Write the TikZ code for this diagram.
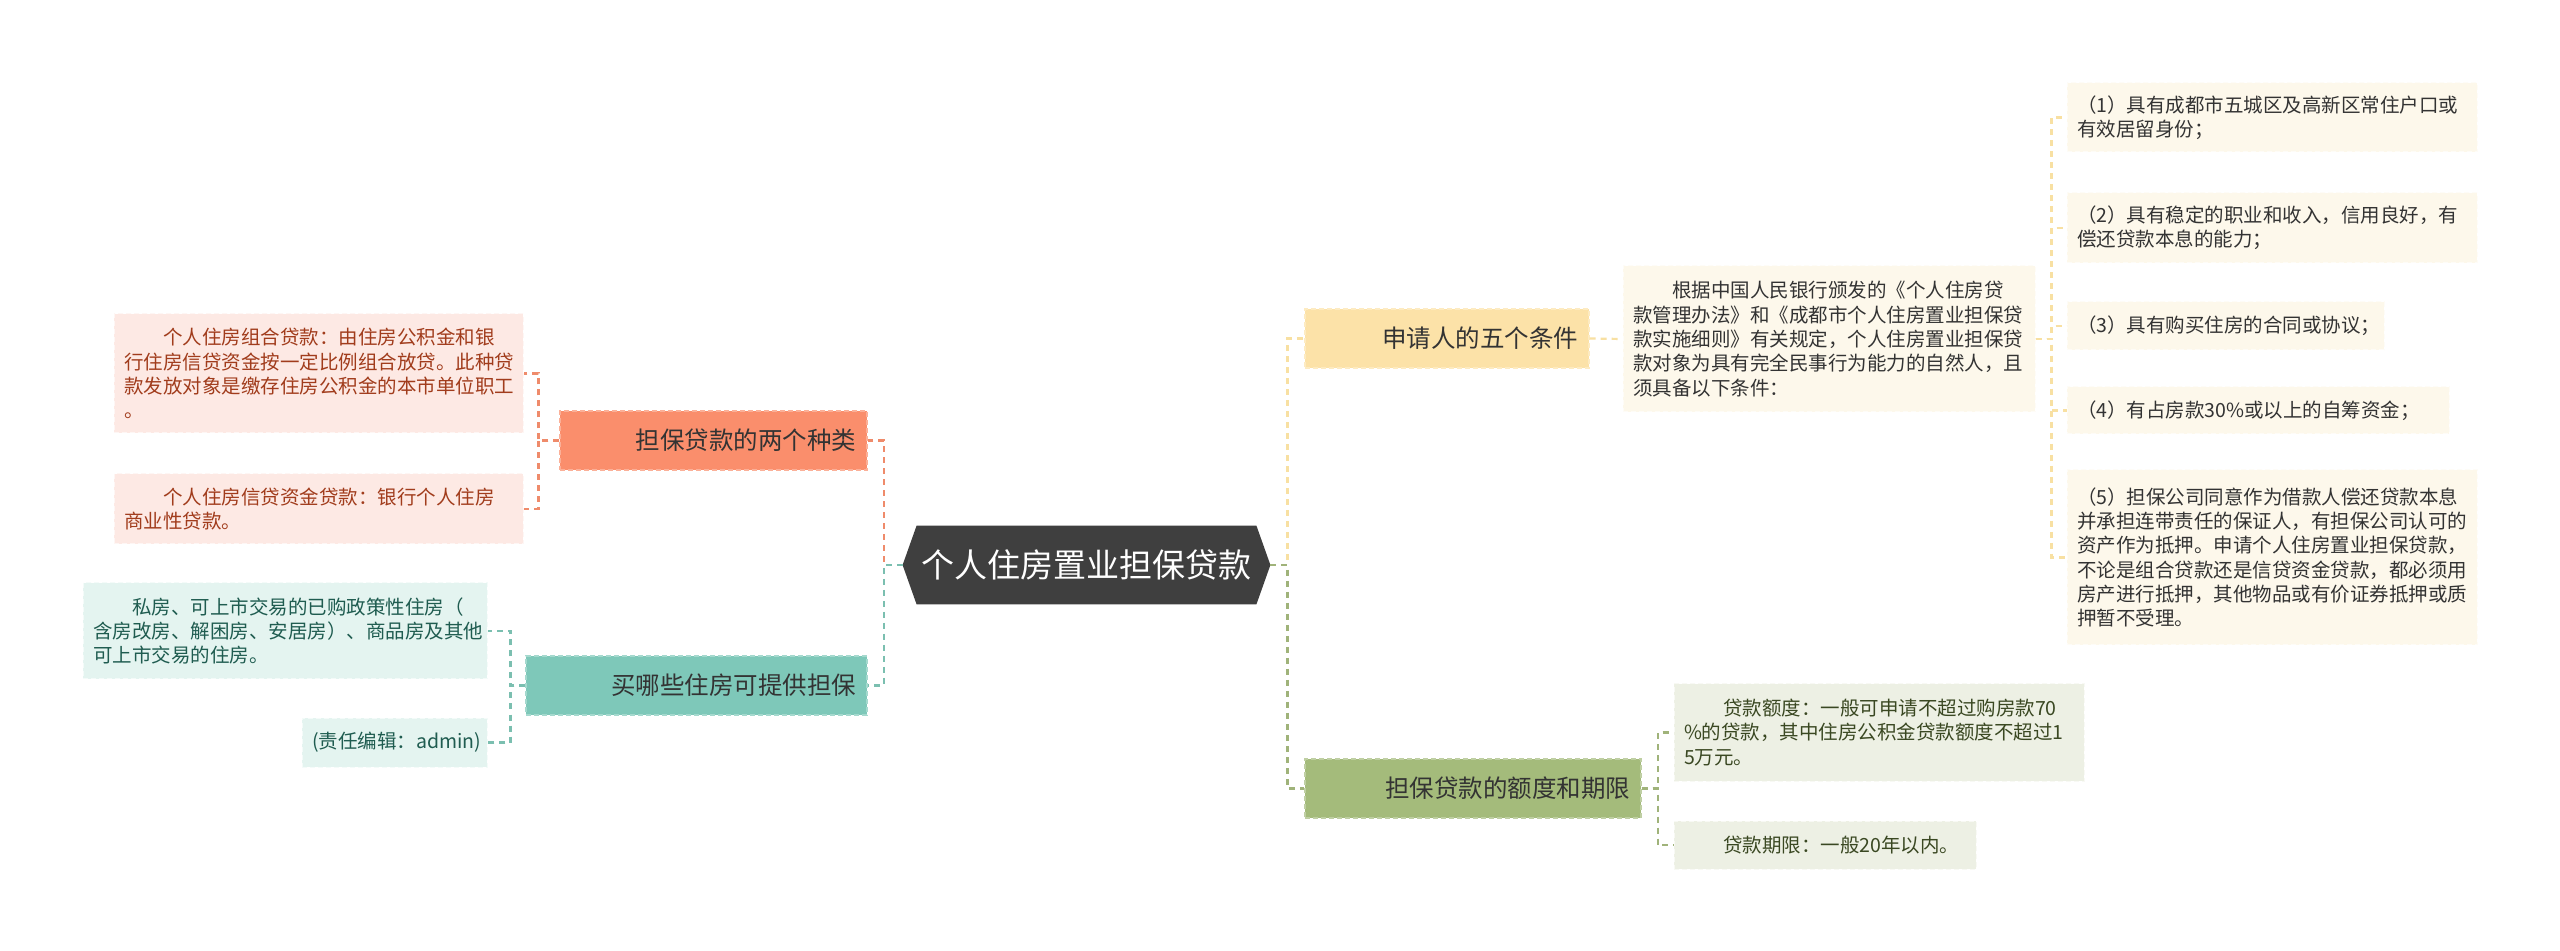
\documentclass[tikz,border=0pt]{standalone}
\usepackage{fontspec}
\setmainfont{Noto Sans CJK SC}
\usetikzlibrary{backgrounds}
\definecolor{rootFill}{HTML}{3F3F3F}
\definecolor{orFill}{HTML}{FA8E6C}
\definecolor{orLine}{HTML}{EF8B6B}
\definecolor{orLeaf}{HTML}{FDE9E4}
\definecolor{orText}{HTML}{A13C1C}
\definecolor{tlFill}{HTML}{7EC8B9}
\definecolor{tlLine}{HTML}{7BBFB0}
\definecolor{tlLeaf}{HTML}{E4F4F0}
\definecolor{tlText}{HTML}{1F5C50}
\definecolor{ywFill}{HTML}{FCE2A8}
\definecolor{ywLine}{HTML}{F8E0A2}
\definecolor{ywLeaf}{HTML}{FDF8EB}
\definecolor{gnFill}{HTML}{A4BB7B}
\definecolor{gnLine}{HTML}{A0B37A}
\definecolor{gnLeaf}{HTML}{EDF0E4}
\definecolor{gnText}{HTML}{3A4822}
\definecolor{txtDark}{HTML}{333333}

\begin{document}
\begin{tikzpicture}[x=0.5pt, y=-0.5pt,
    root/.style={minimum width=183.5pt, minimum height=39pt, inner sep=0pt,
                 text=white, font=\fontsize{16.5pt}{20pt}\selectfont},
    branch/.style={minimum height=29.5pt, inner xsep=5.5pt, inner ysep=0pt, align=right,
                   text=txtDark, font=\fontsize{12.25pt}{15pt}\selectfont,
                   fill=#1, draw=#1!70!white, dash pattern=on 2.5pt off 1.5pt, line width=0.6pt},
    leaf/.style={inner xsep=5pt, inner ysep=0pt, align=left,
                 font=\fontsize{9.75pt}{12.15pt}\selectfont,
                 fill=#1, draw=#1!40!white, dash pattern=on 2.5pt off 1.5pt, line width=0.5pt},
    link/.style={line width=1.1pt, dash pattern=on 3pt off 2.5pt},
]
\useasboundingbox (0,0) rectangle (2560,951);

% centre
\node[root] (root) at (1086.5,565) {个人住房置业担保贷款};

% branches
\node[branch=orFill, text width=142.5pt] (oB) at (713.5,440.5) {担保贷款的两个种类};
\node[branch=tlFill, text width=159.5pt] (tB) at (696.5,685.5) {买哪些住房可提供担保};
\node[branch=ywFill, text width=131pt] (yB) at (1447,338.5) {申请人的五个条件};
\node[branch=gnFill, text width=157pt] (gB) at (1473,788.5) {担保贷款的额度和期限};

% loan types
\node[leaf=orLeaf, text=orText, text width=194.5pt, minimum height=59.5pt] (o1) at (318.5,373.5)
  {\hspace*{2em}个人住房组合贷款：由住房公积金和银\\行住房信贷资金按一定比例组合放贷。此种贷\\款发放对象是缴存住房公积金的本市单位职工\\。};
\node[leaf=orLeaf, text=orText, text width=194.5pt, minimum height=35pt] (o2) at (318.5,509)
  {\hspace*{2em}个人住房信贷资金贷款：银行个人住房\\商业性贷款。};

% houses
\node[leaf=tlLeaf, text=tlText, text width=192pt, minimum height=48pt] (t1) at (285,631)
  {\hspace*{2em}私房、可上市交易的已购政策性住房（\\含房改房、解困房、安居房）、商品房及其他\\可上市交易的住房。};
\node[leaf=tlLeaf, text=tlText, text width=82.5pt, minimum height=24.5pt, align=right] (t2) at (394.5,742.5)
  {(责任编辑：admin)};

% conditions
\node[leaf=ywLeaf, text=txtDark, text width=196pt, minimum height=73pt] (yT) at (1829,339)
  {\hspace*{2em}根据中国人民银行颁发的《个人住房贷\\款管理办法》和《成都市个人住房置业担保贷\\款实施细则》有关规定，个人住房置业担保贷\\款对象为具有完全民事行为能力的自然人，且\\须具备以下条件：};
\node[leaf=ywLeaf, text=txtDark, text width=195pt, minimum height=34.5pt] (y1) at (2272,117.5)
  {（1）具有成都市五城区及高新区常住户口或\\有效居留身份；};
\node[leaf=ywLeaf, text=txtDark, text width=195pt, minimum height=35pt] (y2) at (2272,228)
  {（2）具有稳定的职业和收入，信用良好，有\\偿还贷款本息的能力；};
\node[leaf=ywLeaf, text=txtDark, text width=148.5pt, minimum height=24pt] (y3) at (2225.5,326)
  {（3）具有购买住房的合同或协议；};
\node[leaf=ywLeaf, text=txtDark, text width=181pt, minimum height=23.5pt] (y4) at (2258,410.5)
  {（4）有占房款30\%或以上的自筹资金；};
\node[leaf=ywLeaf, text=txtDark, text width=195pt, minimum height=87.5pt] (y5) at (2272,557.5)
  {（5）担保公司同意作为借款人偿还贷款本息\\并承担连带责任的保证人，有担保公司认可的\\资产作为抵押。申请个人住房置业担保贷款，\\不论是组合贷款还是信贷资金贷款，都必须用\\房产进行抵押，其他物品或有价证券抵押或质\\押暂不受理。};

% amount and term
\node[leaf=gnLeaf, text=gnText, text width=195pt, minimum height=48.5pt] (g1) at (1879,732.5)
  {\hspace*{2em}贷款额度：一般可申请不超过购房款70\\\%的贷款，其中住房公积金贷款额度不超过1\\5万元。};
\node[leaf=gnLeaf, text=gnText, text width=141pt, minimum height=24pt] (g2) at (1825,845)
  {\hspace*{2em}贷款期限：一般20年以内。};

% background and hexagon
\begin{scope}[on background layer]
\fill[white] (0,0) rectangle (2560,951);
\fill[rootFill] (root.west) -- ([xshift=7pt]root.north west) -- ([xshift=-7pt]root.north east)
  -- (root.east) -- ([xshift=-7pt]root.south east) -- ([xshift=7pt]root.south west) -- cycle;
\end{scope}

% links
\draw[link, orLine] (root.west) -- ++(-19,0) |- (oB.east);
\draw[link, tlLine] (root.west) -- ++(-19,0) |- (tB.east);
\draw[link, ywLine] (root.east) -- ++(17,0) |- (yB.west);
\draw[link, gnLine] (root.east) -- ++(17,0) |- (gB.west);

\foreach \n in {o1,o2}
  \draw[link, orLine] (oB.west) -- ++(-21,0) |- (\n.east);
\foreach \n in {t1,t2}
  \draw[link, tlLine] (tB.west) -- ++(-15,0) |- (\n.east);
\draw[link, ywLine] (yB.east) -- (yT.west);
\foreach \i in {1,...,5}
  \draw[link, ywLine] (yT.east) -- ++(16,0) |- (y\i.west);
\foreach \n in {g1,g2}
  \draw[link, gnLine] (gB.east) -- ++(16,0) |- (\n.west);

\end{tikzpicture}
\end{document}
